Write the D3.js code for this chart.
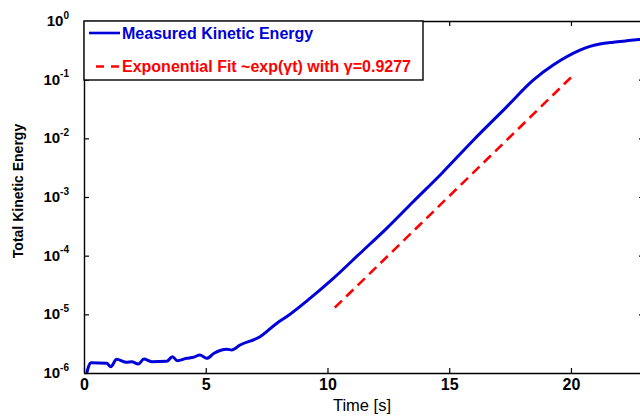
<!DOCTYPE html>
<html>
<head>
<meta charset="utf-8">
<script src="https://cdn.jsdelivr.net/npm/d3@7"></script>
<style>
  body { margin: 0; background: #fff; }
  svg { display: block; font-family: "Liberation Sans", Arial, Helvetica, sans-serif; }
</style>
</head>
<body>
<div id="chart"></div>
<script>
const w = 640;
const h = 418;

// measured kinetic energy
const timeS = [0.11, 0.29, 0.93, 1.10, 1.34, 1.75, 1.96, 2.23, 2.46, 2.78, 3.40, 3.63, 3.83, 4.22, 4.49, 4.76,
  5.04, 5.34, 5.86, 6.07, 6.41, 7.23, 7.91, 8.32, 9.28, 10.24, 11.33, 12.43, 13.52, 14.69, 15.99,
  17.36, 18.45, 19.27, 20.37, 20.78, 21.19, 21.74, 22.3, 22.83, 23.0];
const energy = [1.0e-6, 1.50e-6, 1.46e-6, 1.28e-6, 1.71e-6, 1.52e-6, 1.56e-6, 1.42e-6, 1.73e-6, 1.56e-6, 1.58e-6, 1.90e-6, 1.62e-6, 1.78e-6, 1.85e-6, 2.03e-6,
  1.78e-6, 2.17e-6, 2.54e-6, 2.47e-6, 3.0e-6, 4.15e-6, 7.0e-6, 9.1e-6, 1.87e-5, 4.1e-5, 1.09e-4, 2.92e-4, 8.3e-4, 2.52e-3, 9.3e-3,
  0.0344, 0.098, 0.177, 0.318, 0.37, 0.405, 0.435, 0.46, 0.484, 0.488];

// exponential fit segment (straight on log axis)
const fitT = [10.3, 20.0];
const fitE = [1.3e-5, 0.109];

const xTicks = [0, 5, 10, 15, 20];
const yTicks = [1e-6, 1e-5, 1e-4, 1e-3, 1e-2, 1e-1, 1];
const yExp = ["-6", "-5", "-4", "-3", "-2", "-1", "0"];

const legendLabels = ["Measured Kinetic Energy", "Exponential Fit ~exp(\u03b3t) with \u03b3=0.9277"];

const mLeft = 84, mRight = 644, mTop = 21, mBottom = 373;
const blue = "#0000d8";
const red = "#ff0000";

const svg = d3.select("#chart").append("svg")
  .attr("width", w)
  .attr("height", h);

const x = d3.scaleLinear().domain([0, 23]).range([mLeft, mRight]);
const y = d3.scaleLog().domain([1e-6, 1]).range([mBottom, mTop]);

svg.append("defs").append("clipPath").attr("id", "plot")
  .append("rect").attr("x", mLeft).attr("y", mTop).attr("width", mRight - mLeft).attr("height", mBottom - mTop);

svg.append("path")
  .datum(d3.zip(timeS, energy))
  .attr("clip-path", "url(#plot)")
  .attr("fill", "none")
  .attr("stroke", blue)
  .attr("stroke-width", 3)
  .attr("stroke-linejoin", "round")
  .attr("d", d3.line().x(d => x(d[0])).y(d => y(d[1])).curve(d3.curveMonotoneX));

svg.append("path")
  .datum(d3.zip(fitT, fitE))
  .attr("fill", "none")
  .attr("stroke", red)
  .attr("stroke-width", 2.6)
  .attr("stroke-dasharray", "10,6")
  .attr("d", d3.line().x(d => x(d[0])).y(d => y(d[1])));

// axes, ticks pointing inward
function styleAxis(g) {
  g.selectAll("path.domain").attr("stroke", "#000").attr("stroke-width", 1.4);
  g.selectAll(".tick line").attr("stroke", "#000").attr("stroke-width", 1.2);
}

const gx = svg.append("g")
  .attr("transform", `translate(0,${mBottom})`)
  .call(d3.axisBottom(x).tickValues(xTicks).tickSizeInner(-5).tickSizeOuter(0).tickPadding(6))
  .call(styleAxis);
gx.selectAll("text").attr("fill", "#000").attr("font-size", 16).attr("font-weight", "bold");

svg.append("g")
  .attr("transform", `translate(0,${mTop})`)
  .call(d3.axisTop(x).tickValues(xTicks).tickSizeInner(-5).tickSizeOuter(0).tickFormat(""))
  .call(styleAxis);

svg.append("g")
  .attr("transform", `translate(${mRight},0)`)
  .call(d3.axisRight(y).tickValues(yTicks).tickSizeInner(-5).tickSizeOuter(0).tickFormat(""))
  .call(styleAxis);

const gy = svg.append("g")
  .attr("transform", `translate(${mLeft},0)`)
  .call(d3.axisLeft(y).tickValues(yTicks).tickSizeInner(-5).tickSizeOuter(0).tickPadding(15).tickFormat(""))
  .call(styleAxis);

gy.selectAll(".tick text")
  .attr("fill", "#000")
  .attr("font-weight", "bold")
  .attr("font-size", 15)
  .attr("dy", "0.3em")
  .each(function(d, i) {
    const t = d3.select(this);
    t.append("tspan").text("10");
    t.append("tspan").attr("font-size", 10).attr("dy", "-0.75em").text(yExp[i]);
  });

// legend
const lg = svg.append("g");
lg.append("rect")
  .attr("x", mLeft).attr("y", mTop)
  .attr("width", 339).attr("height", 59)
  .attr("fill", "#fff").attr("stroke", "#000").attr("stroke-width", 1.4);

lg.append("line")
  .attr("x1", 89).attr("x2", 120).attr("y1", 33).attr("y2", 33)
  .attr("stroke", blue).attr("stroke-width", 2.6);
lg.append("line")
  .attr("x1", 96).attr("x2", 120).attr("y1", 66.5).attr("y2", 66.5)
  .attr("stroke", red).attr("stroke-width", 2.6).attr("stroke-dasharray", "8,7");

lg.selectAll("text.leg")
  .data(legendLabels)
  .enter().append("text")
  .attr("class", "leg")
  .attr("x", 122)
  .attr("y", (d, i) => i === 0 ? 38.5 : 72)
  .attr("fill", (d, i) => i === 0 ? blue : red)
  .attr("font-size", 16)
  .attr("font-weight", "bold")
  .text(d => d);

// axis titles
svg.append("text")
  .attr("x", 362).attr("y", 411)
  .attr("text-anchor", "middle")
  .attr("font-size", 16.5)
  .text("Time [s]");

svg.append("text")
  .attr("transform", `translate(23,191) rotate(-90)`)
  .attr("text-anchor", "middle")
  .attr("font-size", 14)
  .attr("font-weight", "bold")
  .text("Total Kinetic Energy");
</script>
</body>
</html>
